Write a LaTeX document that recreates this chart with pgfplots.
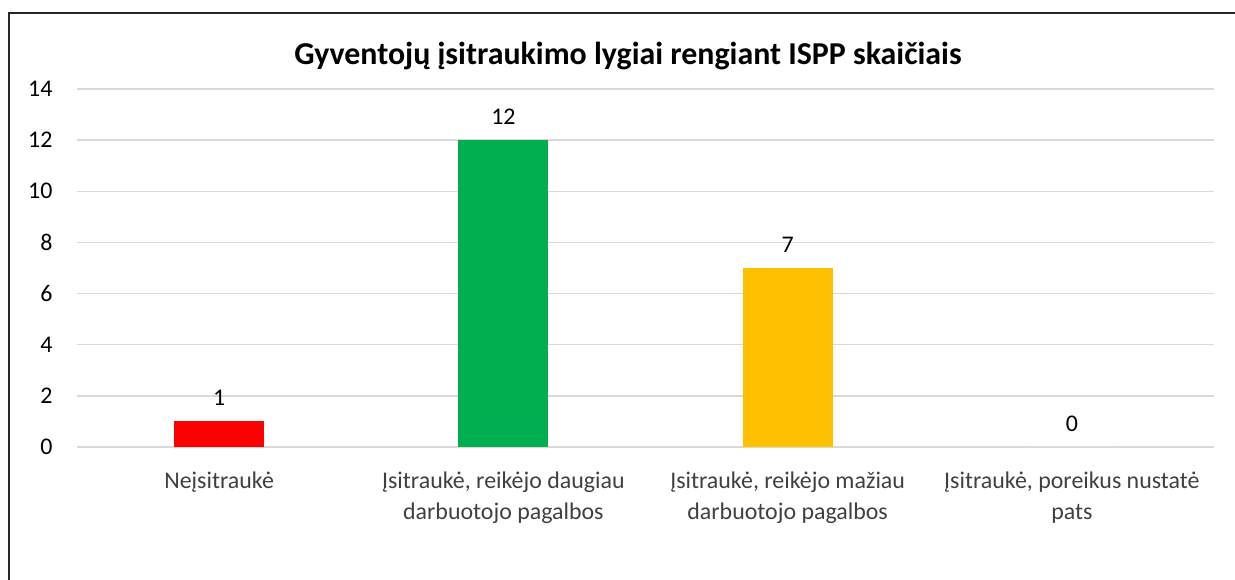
\documentclass[border=0pt]{standalone}
\usepackage{pgfplots}
\pgfplotsset{compat=1.18}
\usepackage{fontspec}
\setmainfont{Carlito}
\definecolor{gridc}{HTML}{D9D9D9}
\definecolor{labc}{HTML}{404040}
\definecolor{cred}{HTML}{FF0000}
\definecolor{cgreen}{HTML}{00B050}
\definecolor{cyellow}{HTML}{FFC000}
\begin{document}
\begin{tikzpicture}[x=1bp,y=1bp]
\useasboundingbox (0,0) rectangle (1235,580);
\draw[line width=2bp,color=black!85] (9,0) -- (9,567) -- (1236,567);
\node[font=\fontsize{32}{36}\selectfont\bfseries] at (628,524) {Gyventojų įsitraukimo lygiai rengiant ISPP skaičiais};
\begin{axis}[
  at={(77bp,133bp)}, anchor=south west,
  scale only axis, width=1137bp, height=358bp,
  xmin=-0.5, xmax=3.5, ymin=0, ymax=14,
  ytick={0,2,...,14},
  xtick={0,1,2,3},
  xticklabels={{Neįsitraukė},{Įsitraukė, reikėjo daugiau\\darbuotojo pagalbos},{Įsitraukė, reikėjo mažiau\\darbuotojo pagalbos},{Įsitraukė, poreikus nustatė\\pats}},
  xticklabel style={align=center, font=\fontsize{24}{31}\selectfont, text=labc, yshift=-21bp},
  yticklabel style={font=\fontsize{24}{28}\selectfont, text=black, xshift=-21bp},
  /pgf/number format/assume math mode=true,
  axis line style={draw=none},
  major tick length=0pt,
  ymajorgrids, grid style={gridc, line width=1.5bp},
  bar width=90bp,
  nodes near coords,
  every node near coord/.append style={font=\fontsize{24}{28}\selectfont, text=black, yshift=12bp},
  clip=false,
]
\addplot[ybar, bar shift=0pt, draw=none, fill=cred] coordinates {(0,1)};
\addplot[ybar, bar shift=0pt, draw=none, fill=cgreen] coordinates {(1,12)};
\addplot[ybar, bar shift=0pt, draw=none, fill=cyellow] coordinates {(2,7)};
\addplot[ybar, bar shift=0pt, draw=none, fill=white] coordinates {(3,0)};
\end{axis}
\end{tikzpicture}
\end{document}
